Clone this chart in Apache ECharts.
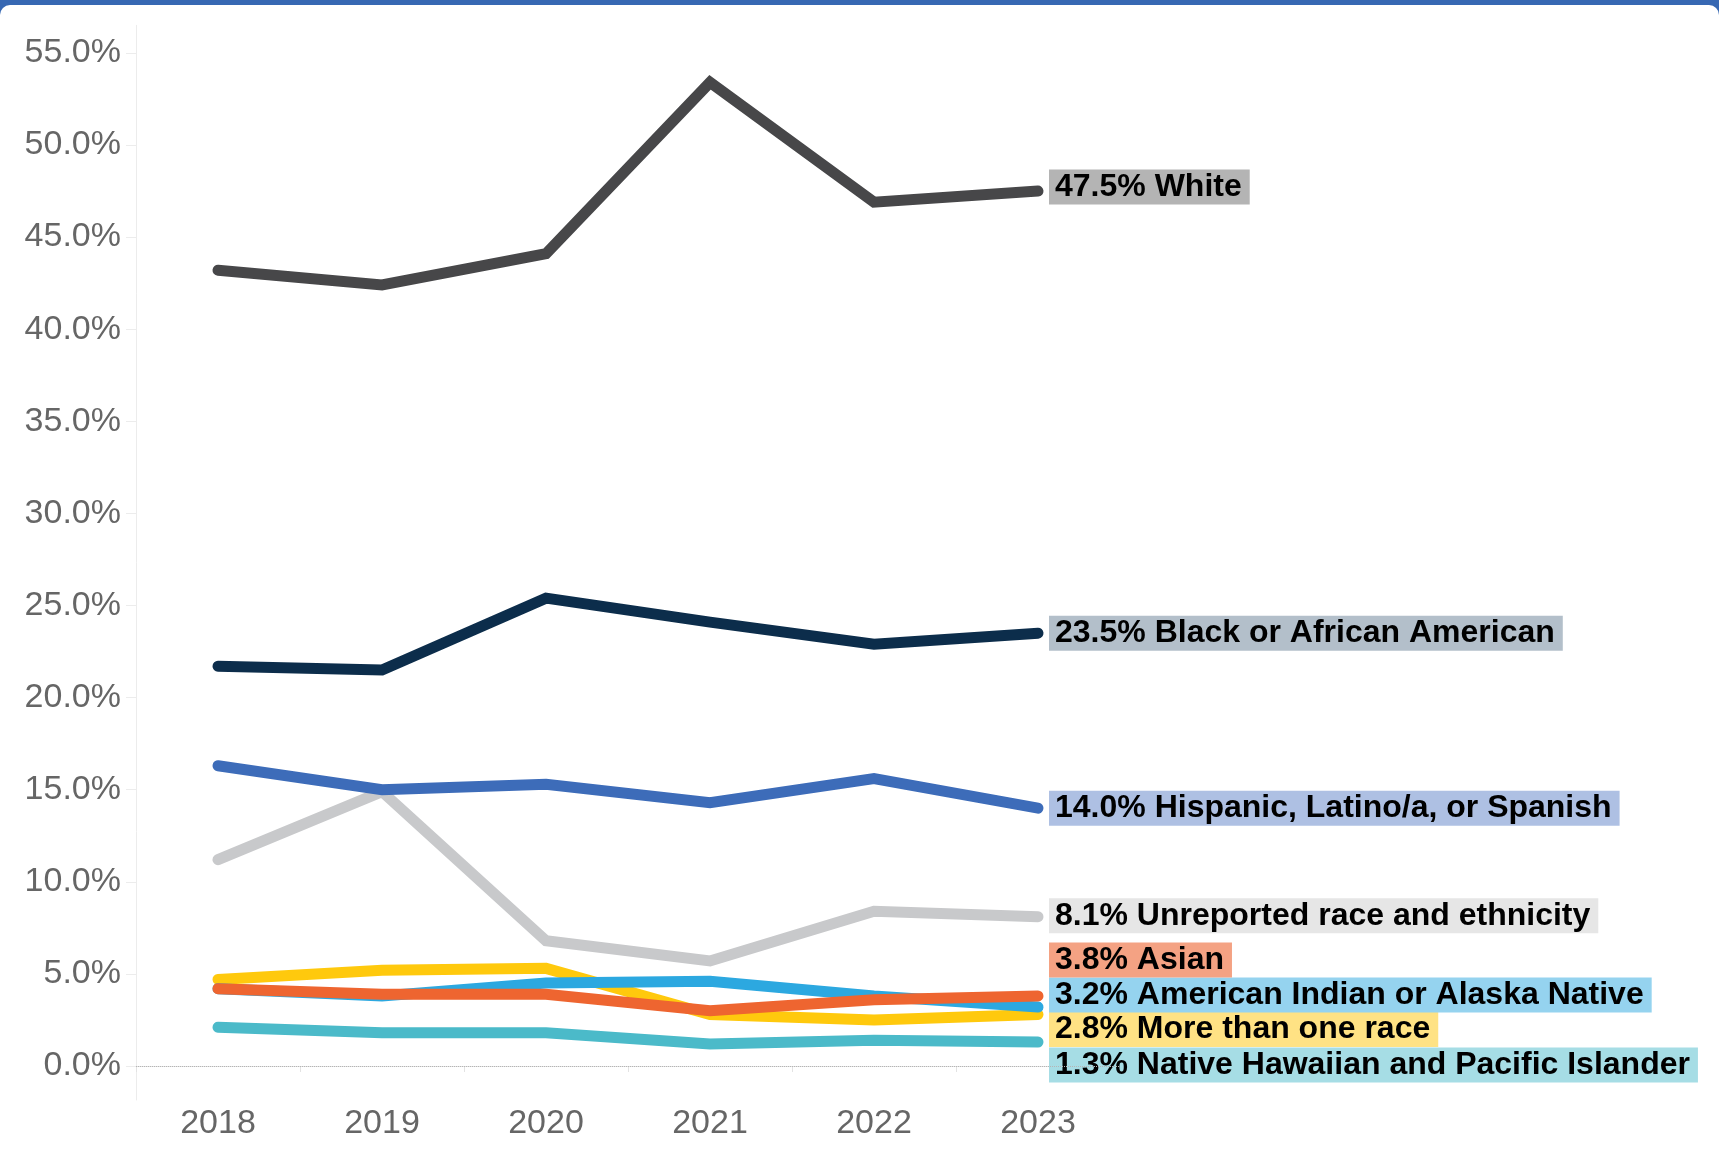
<!DOCTYPE html>
<html>
<head>
<meta charset="utf-8">
<title>Race and ethnicity, 2018-2023</title>
<script src="https://cdn.jsdelivr.net/npm/echarts@6/dist/echarts.min.js"></script>
<style>
html, body { margin: 0; padding: 0; background: #3768b3; }
.echarts-box {
    position: absolute;
    left: 0;
    top: 5px;
    width: 1719px;
    height: 1149px;
    background: #fff;
    border-top-left-radius: 10px;
    border-top-right-radius: 10px;
}
</style>
</head>
<body>
<div class="echarts-box" id="chart"></div>
<script>
// data
var years = ['2018', '2019', '2020', '2021', '2022', '2023'];
var yTicks = [0, 5, 10, 15, 20, 25, 30, 35, 40, 45, 50, 55];

var white      = [43.2, 42.4, 44.1, 53.4, 46.9, 47.5];
var black      = [21.7, 21.5, 25.4, 24.1, 22.9, 23.5];
var hispanic   = [16.3, 15.0, 15.3, 14.3, 15.6, 14.0];
var unreported = [11.2, 14.9, 6.8, 5.7, 8.4, 8.1];
var multiRace  = [4.7, 5.2, 5.3, 2.8, 2.5, 2.8];
var aian       = [4.2, 3.8, 4.5, 4.6, 3.8, 3.2];
var asian      = [4.2, 3.9, 3.9, 3.0, 3.6, 3.8];
var nhpi       = [2.1, 1.8, 1.8, 1.2, 1.4, 1.3];

var FONT = "'Liberation Sans', Arial, sans-serif";

// one line + its end label; later entries are drawn on top
function makeLine(name, data, color, labelBg, dy) {
    return {
        name: name,
        type: 'line',
        data: data,
        symbol: 'none',
        smooth: false,
        lineStyle: { color: color, width: 11, cap: 'round', join: 'miter' },
        itemStyle: { color: color },
        endLabel: {
            show: true,
            distance: 11,
            offset: [0, dy || 0],
            formatter: function (p) {
                return p.value.toFixed(1) + '% ' + p.seriesName;
            },
            color: '#000',
            fontFamily: FONT,
            fontWeight: 'bold',
            fontSize: 32,
            lineHeight: 31,
            backgroundColor: labelBg,
            padding: [2, 8, 2, 6]
        },
        emphasis: { disabled: true }
    };
}

var chart = echarts.init(document.getElementById('chart'));

var series = [
    makeLine('Unreported race and ethnicity', unreported, '#c8c9cb', '#e6e6e6', -1),
    makeLine('More than one race', multiRace, '#ffc90d', '#ffe284', 15),
    makeLine('American Indian or Alaska Native', aian, '#2ca8e0', '#95d3ef', -12),
    makeLine('Asian', asian, '#ee6530', '#f4a283', -36),
    makeLine('Native Hawaiian and Pacific Islander', nhpi, '#4bbac9', '#a6dde5', 23),
    makeLine('Hispanic, Latino/a, or Spanish', hispanic, '#3d6cb9', '#aec0e3', 0),
    makeLine('Black or African American', black, '#0c2d4b', '#b3bfca', 0),
    makeLine('White', white, '#474749', '#b4b4b4', -4)
];

// dotted zero line
series[0].markLine = {
    silent: true,
    symbol: 'none',
    label: { show: false },
    lineStyle: { color: '#b5b5b5', type: 'dotted', width: 1 },
    data: [{ yAxis: 0 }]
};

var option = {
    animation: false,
    grid: {
        left: 136,
        width: 984,
        top: 20.3,
        bottom: 54,
        containLabel: false
    },
    xAxis: {
        type: 'category',
        data: years,
        boundaryGap: true,
        axisLine: { lineStyle: { color: '#e3e3e3', width: 1 } },
        axisTick: { show: true, length: 6, lineStyle: { color: '#e3e3e3' } },
        axisLabel: {
            color: '#666',
            fontFamily: FONT,
            fontSize: 34,
            margin: 7
        }
    },
    yAxis: {
        type: 'value',
        min: -1.846,
        max: 56.5,
        axisLine: { show: true, lineStyle: { color: '#ececec', width: 1 } },
        axisTick: {
            show: true,
            length: 10,
            customValues: yTicks,
            lineStyle: { color: '#ececec' }
        },
        axisLabel: {
            customValues: yTicks,
            formatter: function (v) { return v.toFixed(1) + '%'; },
            color: '#666',
            fontFamily: FONT,
            fontSize: 34,
            margin: 15
        },
        splitLine: { show: false }
    },
    series: series
};

chart.setOption(option, true);
window.addEventListener('resize', function () {
    chart.resize();
});
</script>
</body>
</html>
